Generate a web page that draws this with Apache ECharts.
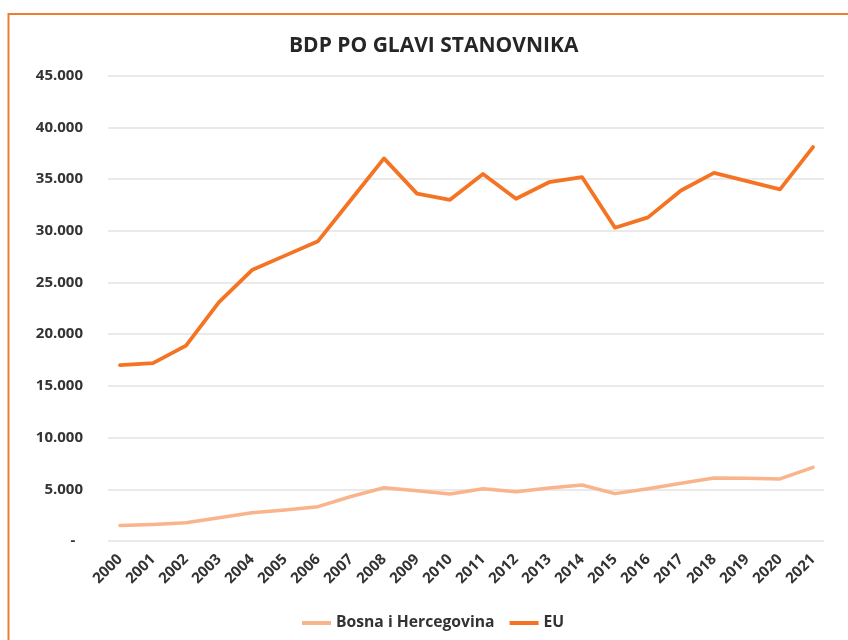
<!DOCTYPE html>
<html>
<head>
<meta charset="utf-8">
<script src="https://cdn.jsdelivr.net/npm/echarts@6/dist/echarts.min.js"></script>
<style>
html,body{margin:0;padding:0;background:#fff;}
#chart{width:848px;height:640px;}
</style>
</head>
<body>
<div id="chart"></div>
<script>
var years = ['2000','2001','2002','2003','2004','2005','2006','2007','2008','2009','2010','2011','2012','2013','2014','2015','2016','2017','2018','2019','2020','2021'];
var bihValues = [1500,1600,1770,2250,2740,3000,3320,4300,5150,4860,4550,5060,4770,5130,5420,4580,5060,5580,6090,6060,6000,7130];
var euValues = [17000,17200,18900,23100,26200,27600,29000,33000,37000,33600,33000,35500,33100,34700,35200,30300,31300,33900,35600,34800,34000,38100];
var seriesNames = ['Bosna i Hercegovina','EU'];
var titleText = 'BDP PO GLAVI STANOVNIKA';

function fmt(v){
  if (v === 0) return '-  ';
  var s = String(Math.round(v));
  return s.replace(/\B(?=(\d{3})+(?!\d))/g, '.');
}

var FONT = '"Open Sans", "Liberation Sans", sans-serif';
var chart = echarts.init(document.getElementById('chart'));
chart.setOption({
  backgroundColor: '#ffffff',
  animation: false,
  textStyle: {fontFamily: FONT},
  graphic: [{
    type: 'rect',
    shape: {x: 8.5, y: 14, width: 900, height: 700},
    style: {fill: 'none', stroke: '#ED7D31', lineWidth: 2},
    silent: true
  }],
  title: {
    text: titleText,
    left: 284,
    top: 31,
    textStyle: {fontFamily: FONT, fontSize: 21, fontWeight: 'bold', color: '#262626'}
  },
  legend: {
    data: seriesNames,
    left: 297,
    top: 610,
    icon: 'rect',
    itemWidth: 29,
    itemHeight: 4,
    itemGap: 15,
    textStyle: {fontFamily: FONT, fontSize: 15.7, fontWeight: 'bold', color: '#333333'}
  },
  grid: [
    {left: 108, right: 24, top: 75.7, bottom: 99},
    {left: 120, right: 35, top: 75.7, bottom: 99}
  ],
  xAxis: [
    {gridIndex: 0, type: 'category', data: years, show: false},
    {
      gridIndex: 1, type: 'category', data: years, boundaryGap: false,
      axisLine: {show: false}, axisTick: {show: false},
      axisLabel: {rotate: 45, margin: 16, interval: 0, fontFamily: FONT, fontSize: 15, fontWeight: 'bold', color: '#333333'}
    }
  ],
  yAxis: [
    {
      gridIndex: 0, type: 'value', min: 0, max: 45000, interval: 5000,
      axisLine: {show: false}, axisTick: {show: false},
      splitLine: {show: true, lineStyle: {color: '#E3E3E3', width: 1.5}},
      axisLabel: {margin: 25, formatter: fmt, fontFamily: FONT, fontSize: 15, fontWeight: 'bold', color: '#333333'}
    },
    {gridIndex: 1, type: 'value', min: 0, max: 45000, interval: 5000, show: false, splitLine: {show: false}}
  ],
  series: [
    {
      name: seriesNames[0], type: 'line', xAxisIndex: 1, yAxisIndex: 1,
      data: bihValues, showSymbol: false, symbol: 'none',
      itemStyle: {color: '#F9B48C'},
      lineStyle: {color: '#F9B48C', width: 3.5, join: 'round', cap: 'round'}
    },
    {
      name: seriesNames[1], type: 'line', xAxisIndex: 1, yAxisIndex: 1,
      data: euValues, showSymbol: false, symbol: 'none',
      itemStyle: {color: '#F47424'},
      lineStyle: {color: '#F47424', width: 3.8, join: 'round', cap: 'round'}
    }
  ]
});
</script>
</body>
</html>
